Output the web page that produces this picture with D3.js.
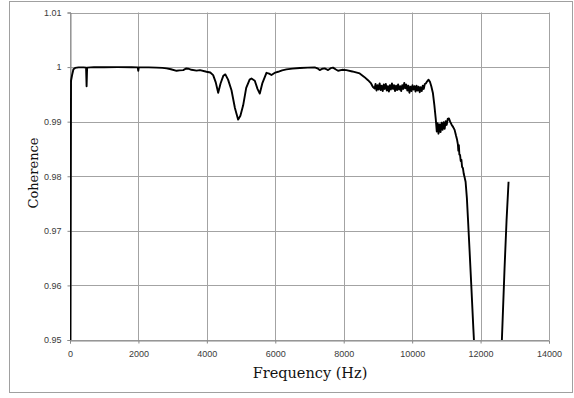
<!DOCTYPE html>
<html>
<head>
<meta charset="utf-8">
<title>coherence</title>
<script src="https://cdn.jsdelivr.net/npm/d3@7"></script>
<style>
    body{
        margin:0;
        background:#fff;
    }
    .tick text{
        font-family:"Liberation Sans", Arial, sans-serif;
        font-size:9px;
        fill:#3a3a3a;
    }
    .axisTitle{
        font-family:"DejaVu Serif", serif;
        fill:#111;
    }
</style>
</head>
<body>
<div id="chart"></div>
<script>

    // frequency (Hz) and coherence
    var freqHz = [10, 30, 60, 100, 150, 250, 400, 470, 485, 500, 700, 1000, 1400, 1800, 1980, 1995, 2010, 2300, 2531, 2700, 2823, 2950, 3115, 3200, 3309, 3400, 3455, 3550, 3699, 3800, 3990, 4100, 4184, 4260, 4331, 4400, 4480, 4540, 4620, 4720, 4820, 4915, 4980, 5061, 5150, 5250, 5304, 5401, 5480, 5547, 5620, 5742, 5820, 5888, 6000, 6082, 6200, 6326, 6500, 6715, 6950, 7153, 7250, 7299, 7380, 7445, 7500, 7542, 7620, 7688, 7760, 7834, 7950, 8078, 8250, 8467, 8600, 8710, 8800, 8850, 8905,
        8930, 8960, 8990, 9020, 9050, 9080, 9110, 9140, 9170, 9200, 9230, 9260, 9290, 9320, 9350, 9380, 9410, 9440, 9470, 9500, 9530, 9560, 9590, 9620, 9650, 9680, 9710, 9740, 9770, 9800, 9830, 9860, 9890, 9920, 9950, 9980, 10010, 10040, 10070, 10100, 10130, 10160, 10190, 10220, 10250, 10280, 10310, 10340, 10370, 10400, 10440, 10480, 10520, 10560, 10608, 10650, 10690,
        10720, 10745, 10770, 10800, 10830, 10860, 10890, 10920, 10950, 10980, 11010, 11040, 11075, 11110, 11150, 11200, 11241, 11280, 11310, 11338, 11350, 11365, 11380, 11400, 11420, 11440, 11460, 11484, 11510, 11533, 11562, 11600, 11630, 11680, 11727, 11790, 11830, 12000, 12400, 12600, 12623, 12700, 12760, 12818];

    var coherence = [0.9500, 0.9975, 0.9985, 0.9996, 0.99985, 0.99995, 0.99995, 0.9999, 0.9965, 0.9999, 1.0, 0.99998, 1.0, 0.99997, 0.99995, 0.9993, 0.99995, 0.99995, 0.9999, 0.99985, 0.99976, 0.9996, 0.99932, 0.9994, 0.99945, 0.99975, 0.9997, 0.9995, 0.99935, 0.99945, 0.99915, 0.9990, 0.99853, 0.9972, 0.9953, 0.9970, 0.9984, 0.99866, 0.9977, 0.99576, 0.9925, 0.99037, 0.9911, 0.9930, 0.9962, 0.9977, 0.9979, 0.9975, 0.9960, 0.99515, 0.9970, 0.99895, 0.9988, 0.99855, 0.9990, 0.99914, 0.9994, 0.99957, 0.99972, 0.99982, 0.9999, 0.99994, 0.9997, 0.99945, 0.9997, 0.99976, 0.9996, 0.99945, 0.9998, 0.9999, 0.9996, 0.99932, 0.9995, 0.99945, 0.9992, 0.99884, 0.9982, 0.9976, 0.9970, 0.9964, 0.99607,
        0.9969, 0.9957, 0.9967, 0.9959, 0.9970, 0.9958, 0.9966, 0.9956, 0.9968, 0.9960, 0.9969, 0.9957, 0.9965, 0.9955, 0.9967, 0.9959, 0.9970, 0.9960, 0.9967, 0.9956, 0.9966, 0.9958, 0.9968, 0.9959, 0.9965, 0.9956, 0.9967, 0.9960, 0.9971, 0.9961, 0.9968, 0.9957, 0.9966, 0.9953, 0.9964, 0.9956, 0.9967, 0.9959, 0.9965, 0.9955, 0.9966, 0.9957, 0.9964, 0.9954, 0.9963, 0.9956, 0.9966, 0.9960, 0.9969, 0.9970, 0.9974, 0.9977, 0.9973, 0.9965, 0.9952, 0.9930, 0.9905,
        0.9882, 0.9897, 0.9878, 0.9895, 0.9881, 0.9898, 0.9885, 0.9899, 0.9887, 0.9901, 0.9894, 0.9905, 0.9906, 0.9900, 0.9895, 0.9890, 0.9885, 0.9875, 0.9868, 0.9858, 0.9847, 0.9857, 0.9840, 0.9839, 0.9828, 0.9830, 0.9817, 0.9815, 0.9804, 0.9798, 0.9790, 0.9760, 0.9724, 0.9662, 0.9602, 0.9520, 0.9470, 0.9300, 0.9300, 0.9460, 0.9500, 0.9630, 0.9720, 0.9790];

    var xTicks = [0, 2000, 4000, 6000, 8000, 10000, 12000, 14000];
    var yTicks = [0.95, 0.96, 0.97, 0.98, 0.99, 1, 1.01];

    var width = 574, height = 398;
    var plotLeft = 70, plotRight = 549, plotTop = 12.5, plotBottom = 340;

    var svg = d3.select("#chart").append("svg")
        .attr("width", width).attr("height", height);

    // outer frame
    svg.append("rect")
        .attr("x", 9.5).attr("y", 1.5)
        .attr("width", 563).attr("height", 391)
        .attr("fill", "none").attr("stroke", "#a0a0a0");

    var x = d3.scaleLinear().domain([0, 14000]).range([plotLeft, plotRight]);
    var y = d3.scaleLinear().domain([0.95, 1.01]).range([plotBottom, plotTop]);

    // grid
    svg.append("g").selectAll("line").data(yTicks).enter().append("line")
        .attr("x1", plotLeft).attr("x2", plotRight)
        .attr("y1", function(d){ return Math.round(y(d)) + 0.5 })
        .attr("y2", function(d){ return Math.round(y(d)) + 0.5 })
        .attr("stroke", "#a3a3a3");
    svg.append("g").selectAll("line").data(xTicks).enter().append("line")
        .attr("y1", plotTop).attr("y2", plotBottom)
        .attr("x1", function(d){ return Math.round(x(d)) + 0.5 })
        .attr("x2", function(d){ return Math.round(x(d)) + 0.5 })
        .attr("stroke", "#a3a3a3");

    var xAxis = d3.axisBottom(x).tickValues(xTicks).tickSize(3).tickPadding(7).tickFormat(d3.format("d"));
    var yAxis = d3.axisLeft(y).tickValues(yTicks).tickSize(3).tickPadding(6).tickFormat(function(d){ return String(+d.toFixed(2)) });

    var gx = svg.append("g").attr("transform", "translate(0," + (Math.round(plotBottom) + 0.5) + ")").call(xAxis);
    var gy = svg.append("g").attr("transform", "translate(" + (plotLeft + 0.5) + ",0)").call(yAxis);
    [gx, gy].forEach(function(g){
        g.selectAll(".domain").attr("stroke", "#888");
        g.selectAll(".tick line").attr("stroke", "#888");
    });

    svg.append("clipPath").attr("id", "plotClip")
        .append("rect").attr("x", plotLeft).attr("y", plotTop)
        .attr("width", plotRight - plotLeft).attr("height", plotBottom - plotTop);

    var line = d3.line()
        .x(function(d, i){ return x(freqHz[i]) })
        .y(function(d){ return y(d) });

    svg.append("path")
        .datum(coherence)
        .attr("clip-path", "url(#plotClip)")
        .attr("d", line)
        .attr("fill", "none")
        .attr("stroke", "#000")
        .attr("stroke-width", 1.9)
        .attr("stroke-linejoin", "round");

    svg.append("text").attr("class", "axisTitle")
        .attr("x", 310).attr("y", 378)
        .attr("text-anchor", "middle")
        .style("font-size", "14.5px")
        .text("Frequency (Hz)");

    svg.append("text").attr("class", "axisTitle")
        .attr("transform", "translate(38,173) rotate(-90)")
        .attr("text-anchor", "middle")
        .style("font-size", "13px")
        .text("Coherence");

</script>
</body>
</html>
